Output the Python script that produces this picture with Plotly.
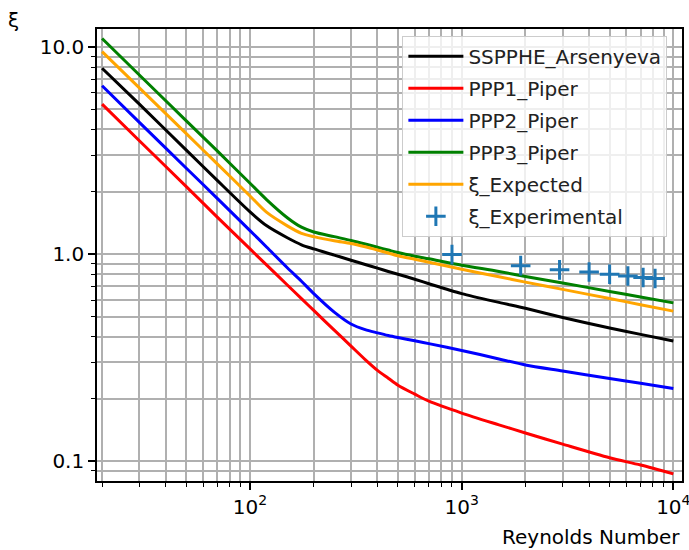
import plotly.graph_objects as go

# Reynolds numbers at which curves were read
reynolds = [20, 30, 50, 70, 100, 120, 150, 175, 200, 250, 300, 350, 400, 450, 500,
            600, 700, 1000, 1500, 2000, 3000, 5000, 7000, 10000]

sspphe_arsenyeva = [7.9, 5.3, 3.18, 2.27, 1.6, 1.37, 1.2, 1.11, 1.06, 0.99, 0.935, 0.891,
                    0.856, 0.825, 0.80, 0.757, 0.72, 0.645, 0.585, 0.548, 0.495, 0.44,
                    0.41, 0.381]
ppp1_piper = [5.3, 3.53, 2.12, 1.51, 1.06, 0.885, 0.71, 0.61, 0.535, 0.43, 0.36, 0.31,
              0.275, 0.252, 0.233, 0.211, 0.195, 0.171, 0.150, 0.137, 0.121, 0.104,
              0.096, 0.087]
ppp2_piper = [6.5, 4.33, 2.6, 1.86, 1.3, 1.08, 0.86, 0.74, 0.645, 0.525, 0.46, 0.432,
              0.417, 0.405, 0.396, 0.382, 0.37, 0.343, 0.312, 0.292, 0.273, 0.251,
              0.238, 0.2245]
ppp3_piper = [11.0, 7.33, 4.4, 3.15, 2.2, 1.83, 1.5, 1.35, 1.28, 1.215, 1.165, 1.12,
              1.08, 1.047, 1.018, 0.978, 0.95, 0.885, 0.825, 0.78, 0.726, 0.661,
              0.621, 0.582]
xi_expected = [9.5, 6.35, 3.82, 2.73, 1.91, 1.59, 1.37, 1.26, 1.215, 1.16, 1.125, 1.085,
               1.047, 1.013, 0.982, 0.945, 0.915, 0.845, 0.778, 0.733, 0.676, 0.611,
               0.57, 0.531]

exp_reynolds = [900, 1900, 2900, 4000, 5000, 6100, 7200, 8200]
xi_experimental = [0.995, 0.88, 0.84, 0.82, 0.80, 0.785, 0.772, 0.763]

x_tickvals = [100, 1000, 10000]
x_ticktext = ["10<sup>2</sup>", "10<sup>3</sup>", "10<sup>4</sup>"]
y_tickvals = [0.1, 1, 10]
y_ticktext = ["0.1", "1.0", "10.0"]

FONT = "DejaVu Sans"
GRID = "#b0b0b0"

fig = go.Figure()
series = [
    ("SSPPHE_Arsenyeva", sspphe_arsenyeva, "black"),
    ("PPP1_Piper", ppp1_piper, "red"),
    ("PPP2_Piper", ppp2_piper, "blue"),
    ("PPP3_Piper", ppp3_piper, "green"),
    ("ξ_Expected", xi_expected, "orange"),
]
for i, (name, vals, col) in enumerate(series):
    fig.add_trace(go.Scatter(
        x=reynolds, y=vals, mode="lines", name=name,
        line=dict(color=col, width=3, shape="spline", smoothing=0.8),
        legendgroup=f"g{i}",
    ))
fig.add_trace(go.Scatter(
    x=exp_reynolds, y=xi_experimental, mode="markers", name="ξ_Experimental",
    marker=dict(symbol="cross-thin", size=14, color="#1f77b4",
                line=dict(color="#1f77b4", width=3)),
    legendgroup="g5",
))

def minor_vals(lo, hi):
    out = []
    for e in range(lo, hi):
        for m in range(2, 10):
            out.append(m * 10 ** e)
    return out

fig.update_layout(
    width=689, height=550,
    margin=dict(l=97, r=7, t=29, b=69, autoexpand=False),
    paper_bgcolor="white", plot_bgcolor="white",
    font=dict(family=FONT, size=20, color="black"),
    showlegend=True,
    legend=dict(
        x=0.975, y=0.985, xanchor="right", yanchor="top",
        bgcolor="rgba(255,255,255,0.8)", bordercolor="#cccccc", borderwidth=1,
        font=dict(family=FONT, size=20, color="#222"),
        tracegroupgap=3, traceorder="grouped", itemwidth=55,
    ),
    xaxis=dict(
        type="log", range=[1.277, 4.041], automargin=False,
        tickmode="array", tickvals=x_tickvals, ticktext=x_ticktext,
        ticklabeloverflow="allow",
        ticks="outside", ticklen=7, tickwidth=1.6, tickcolor="black",
        showline=True, linecolor="black", linewidth=1.6, mirror=True,
        showgrid=True, gridcolor=GRID, gridwidth=1.6,
        zeroline=False,
        minor=dict(tickmode="array", tickvals=minor_vals(1, 4), ticks="outside",
                   ticklen=4, tickwidth=1.2, tickcolor="black",
                   showgrid=True, gridcolor=GRID, gridwidth=1.6),
    ),
    yaxis=dict(
        type="log", range=[-1.095, 1.087], automargin=False,
        tickmode="array", tickvals=y_tickvals, ticktext=y_ticktext,
        ticks="outside", ticklen=7, tickwidth=1.6, tickcolor="black",
        showline=True, linecolor="black", linewidth=1.6, mirror=True,
        showgrid=True, gridcolor=GRID, gridwidth=1.6,
        zeroline=False,
        minor=dict(tickmode="array", tickvals=minor_vals(-2, 2), ticks="outside",
                   ticklen=4, tickwidth=1.2, tickcolor="black",
                   showgrid=True, gridcolor=GRID, gridwidth=1.6),
    ),
    annotations=[
        dict(text="ξ", xref="paper", yref="paper", x=-0.142, y=1.02,
             xanchor="center", yanchor="middle", showarrow=False,
             font=dict(family=FONT, size=20, color="black")),
        dict(text="Reynolds Number", xref="paper", yref="paper", x=1.0, y=-0.124,
             xanchor="right", yanchor="middle", showarrow=False,
             font=dict(family=FONT, size=20, color="black")),
    ],
)

fig.write_html(
    "out.html",
    config={"displayModeBar": False},
    post_script="document.body.style.margin='0';document.body.style.overflow='hidden';",
)
